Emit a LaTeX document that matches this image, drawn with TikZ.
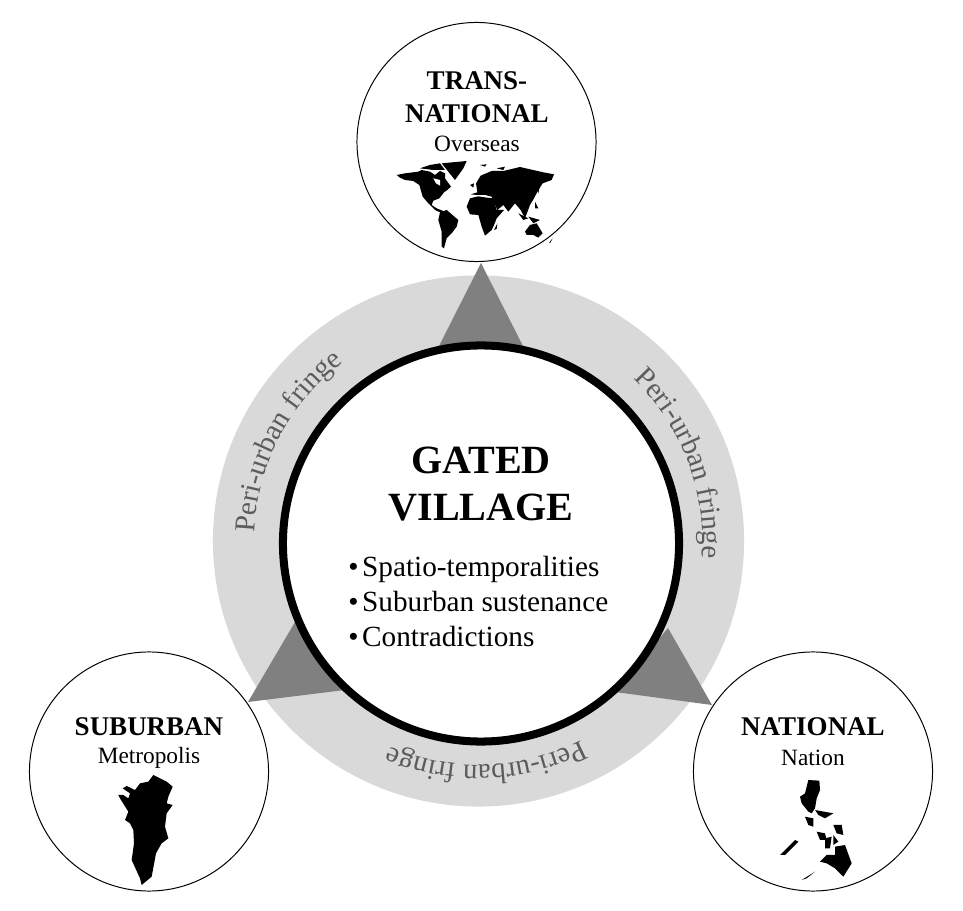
\documentclass[tikz,border=0pt]{standalone}
\usepackage{fontspec}
\setmainfont{Liberation Serif}
\usetikzlibrary{decorations.text}
\def\fringeradius{224}
\newcommand{\fringefont}{\fontsize{20.6}{24}\selectfont\color{fringetext}}
\definecolor{fringetext}{gray}{0.36}
\definecolor{ringgray}{gray}{0.85}
\definecolor{wedgegray}{gray}{0.5}
\tikzset{
  placecircle/.style={circle,draw,fill=white,line width=0.7pt,minimum size=5.975cm,inner sep=0pt},
  placetitle/.style={font=\fontsize{19.2}{23.4}\selectfont\bfseries,align=center,inner sep=0pt},
  placename/.style={font=\fontsize{16.6}{20}\selectfont,inner sep=0pt},
  wedge/.style={fill=wedgegray,draw=none}
}
\begin{document}
\begin{tikzpicture}[x=0.025cm,y=-0.025cm]
  \useasboundingbox (0,0) rectangle (963,911);
  % fringe ring
  \node[circle,fill=ringgray,minimum size=13.275cm,inner sep=0pt] (fringe) at (478.5,541) {};
  % wedges towards the three scales
  \coordinate (topapex) at (481,263);
  \coordinate (leftapex) at (248,702);
  \coordinate (rightapex) at (712,705);
  \fill[wedge] (topapex) -- (525,350) -- (437,350) -- cycle;
  \fill[wedge] (leftapex) -- (295,622) -- (345,690) -- cycle;
  \fill[wedge] (rightapex) -- (668,628) -- (615,692) -- cycle;
  % fringe labels
  \foreach \mid in {207.5,-21,88} {
    \path[decorate,decoration={text along path,text align=center,
        text={|\fringefont|Peri-urban fringe}}]
      (478.5,541) ++(\mid-45:\fringeradius) arc (\mid-45:\mid+45:\fringeradius);
  }
  % gated village
  \node[circle,draw=black,fill=white,line width=5.7pt,minimum size=9.9cm,inner sep=0pt] (gated) at (481,543.5) {};
  \node[font=\fontsize{28.5}{34}\selectfont\bfseries,align=center,inner sep=0pt] (gatedtitle) at (481,484) {GATED\\VILLAGE};
  \node[font=\fontsize{20.8}{25}\selectfont,align=left,anchor=west,inner sep=0pt] (themes) at (348,601.5)
    {\textbullet\hspace{0.125em}Spatio-temporalities\\\textbullet\hspace{0.125em}Suburban sustenance\\\textbullet\hspace{0.125em}Contradictions};
  % the three scales
  \node[placecircle] (transnational) at (476.5,142) {};
  \node[placecircle] (suburban) at (149,771.5) {};
  \node[placecircle] (national) at (813,771.5) {};
  \node[placetitle] (transtitle) at (477,97) {TRANS-\\NATIONAL};
  \node[placename] (transname) at (477,144) {Overseas};
  \node[placetitle] (subtitle) at (149,727) {SUBURBAN};
  \node[placename] (subname) at (149,758) {Metropolis};
  \node[placetitle] (nattitle) at (813,727) {NATIONAL};
  \node[placename] (natname) at (813,758) {Nation};
  % world map
  \begin{scope}[shift={(390,155)},x=0.00833cm,y=-0.00833cm]
    \fill (20,60) -- (45,55) -- (85,50) -- (95,45) -- (120,50) -- (135,60) -- (150,48) -- (165,55) -- (165,70)
      -- (183,95) -- (172,105) -- (162,112) -- (148,130) -- (130,137) -- (125,150) -- (140,160) -- (165,170)
      -- (150,172) -- (135,165) -- (115,145) -- (98,125) -- (88,90) -- (70,78) -- (45,75) -- (30,68) -- cycle;
    \fill (90,40) -- (120,30) -- (150,25) -- (165,45) -- (130,45) -- cycle;
    \fill (155,25) -- (230,18) -- (220,40) -- (195,75) -- (175,50) -- cycle;
    \fill[white] (130,70) -- (150,75) -- (150,92) -- (138,85) -- cycle;
    \fill (150,172) -- (170,165) -- (205,195) -- (200,215) -- (185,235) -- (170,250) -- (162,280) -- (155,275)
      -- (155,230) -- (145,195) -- cycle;
    \fill (230,155) -- (240,130) -- (265,124) -- (290,128) -- (310,130) -- (320,165) -- (342,165) -- (320,190)
      -- (312,210) -- (305,225) -- (285,242) -- (275,215) -- (265,180) -- (240,178) -- cycle;
    \fill (242,118) -- (262,112) -- (258,85) -- (272,62) -- (305,48) -- (340,48) -- (390,36) -- (460,52) -- (492,58)
      -- (485,75) -- (458,85) -- (445,105) -- (432,130) -- (420,150) -- (405,190) -- (392,165) -- (375,145)
      -- (355,170) -- (340,150) -- (322,165) -- (305,125) -- (285,120) -- (262,120) -- cycle;
    \fill (405,230) -- (420,210) -- (440,205) -- (458,235) -- (445,248) -- (430,240) -- (410,240) -- cycle;
    \fill (385,175) -- (415,190) -- (400,195) -- cycle;
    \fill (415,185) -- (450,195) -- (430,205) -- cycle;
    \fill (435,140) -- (445,160) -- (435,160) -- cycle;
    \fill (440,100) -- (450,90) -- (445,115) -- cycle;
    \fill (312,225) -- (322,205) -- (320,222) -- cycle;
    \fill (240,90) -- (252,85) -- (250,98) -- cycle;
    \fill (478,262) -- (488,250) -- (480,265) -- cycle;
    \fill (270,30) -- (290,28) -- (285,35) -- cycle;
    \fill (320,40) -- (345,35) -- (340,45) -- cycle;
  \end{scope}
  % metropolis map
  \begin{scope}[shift={(20,640)},x=0.00833cm,y=-0.00833cm]
    \fill (400,405) -- (440,425) -- (458,440) -- (445,470) -- (440,490) -- (458,495) -- (440,520) -- (435,560)
      -- (445,595) -- (425,610) -- (408,640) -- (395,710) -- (365,735) -- (360,715) -- (335,660) -- (342,610)
      -- (340,570) -- (330,550) -- (315,540) -- (325,515) -- (300,475) -- (295,465) -- (310,465) -- (325,475)
      -- (330,460) -- (308,445) -- (320,438) -- (345,450) -- (360,430) -- (385,425) -- cycle;
  \end{scope}
  % nation map
  \begin{scope}[shift={(770,770)},x=0.00833cm,y=-0.00833cm]
    \fill (115,30) -- (148,32) -- (150,60) -- (140,85) -- (135,115) -- (125,130) -- (115,125) -- (95,100) -- (90,80) -- (105,70) -- cycle;
    \fill (105,140) -- (130,145) -- (130,170) -- (115,165) -- cycle;
    \fill (135,120) -- (190,130) -- (165,145) -- (145,135) -- cycle;
    \fill (30,255) -- (75,210) -- (85,215) -- (45,255) -- cycle;
    \fill (190,165) -- (215,165) -- (220,195) -- (200,190) -- cycle;
    \fill (140,185) -- (165,190) -- (170,210) -- (150,210) -- cycle;
    \fill (165,205) -- (185,200) -- (180,235) -- (165,235) -- cycle;
    \fill (190,195) -- (205,215) -- (190,225) -- cycle;
    \fill (150,275) -- (170,255) -- (195,255) -- (195,230) -- (225,225) -- (245,280) -- (220,320) -- (195,295) -- (170,280) -- cycle;
    \fill (95,330) -- (135,305) -- (110,325) -- cycle;
  \end{scope}
\end{tikzpicture}
\end{document}
